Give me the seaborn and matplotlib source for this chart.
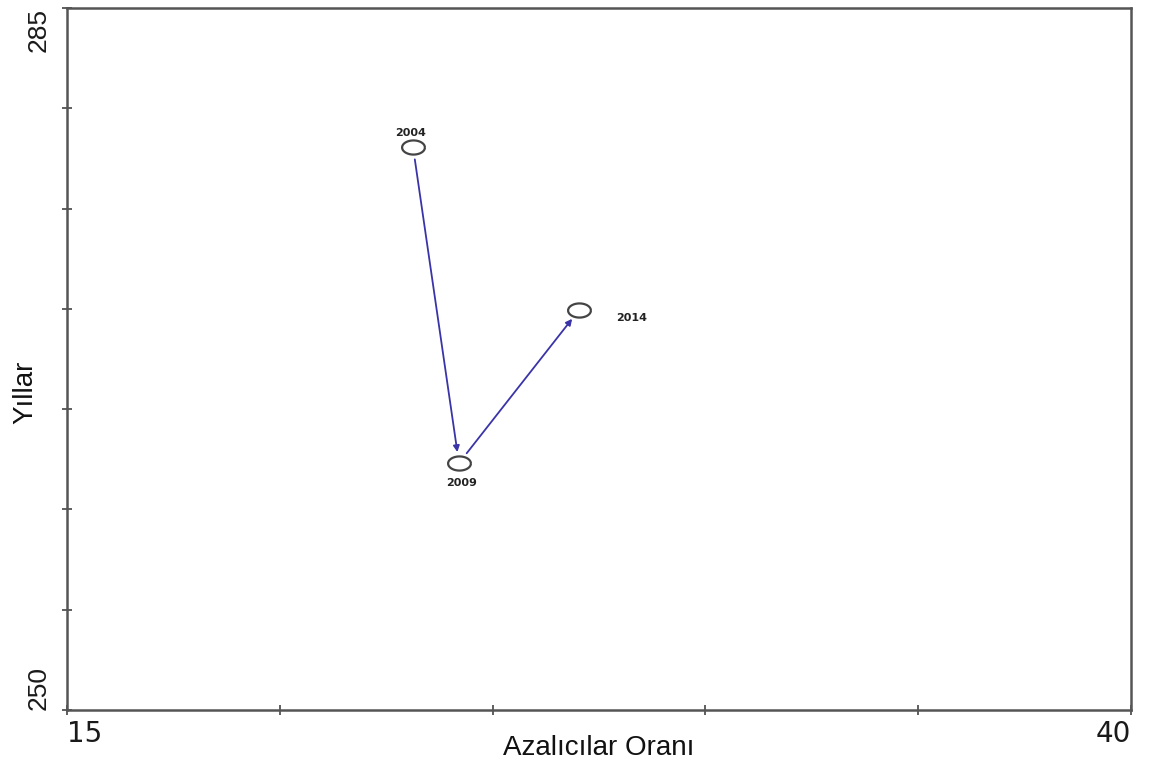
import numpy as np
import pandas as pd
import matplotlib
matplotlib.use("Agg")
import matplotlib.pyplot as plt
from matplotlib.path import Path
import seaborn as sns

# Trajectory of the reduction ratio across survey years
years = ["2004", "2009", "2014"]
ratio = [23.13, 24.21, 27.03]
score = [278.07, 262.31, 269.94]

x_ticks = [15, 20, 25, 30, 35, 40]
y_ticks = [250, 255, 260, 265, 270, 275, 280, 285]

df = pd.DataFrame({"year": years, "ratio": ratio, "score": score})

sns.set_theme(style="white")
plt.rcParams["font.family"] = ["Liberation Sans", "DejaVu Sans"]

W, H = 1149, 769
fig = plt.figure(figsize=(W / 100, H / 100), dpi=100)
ax = fig.add_axes([67 / W, 1 - 710 / H, (1131 - 67) / W, (710 - 8) / H])

# flattened open ellipse marker
t = np.linspace(0, 2 * np.pi, 40)
ellipse = Path(np.column_stack([np.cos(t), 0.62 * np.sin(t)]))

sns.scatterplot(data=df, x="ratio", y="score", marker=ellipse, s=270,
                facecolor="white", edgecolor="#444444", linewidth=1.6,
                ax=ax, zorder=3, legend=False)

# arrows linking consecutive years
for i in range(len(years) - 1):
    ax.annotate("", xy=(ratio[i + 1], score[i + 1]), xytext=(ratio[i], score[i]),
                arrowprops=dict(arrowstyle="-|>", color="#3a34a8", lw=1.3,
                                mutation_scale=9, shrinkA=9, shrinkB=8),
                zorder=2)

# year labels
offsets = {"2004": (-1.5, 10, "center", "center"),
           "2009": (2, -14, "center", "center"),
           "2014": (27, -6, "left", "center")}
for yr, xv, yv in zip(years, ratio, score):
    dx, dy, ha, va = offsets[yr]
    ax.annotate(yr, (xv, yv), xytext=(dx, dy), textcoords="offset points",
                ha=ha, va=va, fontsize=8, fontweight="bold", color="#222222",
                family="DejaVu Sans")

ax.set_xlim(15, 40)
ax.set_ylim(250, 285)
ax.set_xticks(x_ticks)
ax.set_yticks(y_ticks)
ax.set_xticklabels(["15", "", "", "", "", "40"])
ax.set_yticklabels(["250", "", "", "", "", "", "", "285"])
ax.set_xlabel("")
ax.set_ylabel("")

for lab in ax.get_xticklabels():
    lab.set_fontsize(20)
    lab.set_family("DejaVu Sans")
ax.get_xticklabels()[0].set_ha("left")
ax.get_xticklabels()[-1].set_ha("right")
for lab in ax.get_yticklabels():
    lab.set_fontsize(19)
    lab.set_rotation(90)
ax.get_yticklabels()[0].set_va("bottom")
ax.get_yticklabels()[-1].set_va("top")

ax.tick_params(axis="both", which="major", bottom=True, left=True,
               direction="inout", length=7, width=1.2,
               color="#444444", labelcolor="#1a1a1a")
ax.tick_params(axis="x", pad=4)
ax.tick_params(axis="y", pad=8)

for sp in ax.spines.values():
    sp.set_visible(True)
    sp.set_color("#555555")
    sp.set_linewidth(1.8)

# axis titles placed in figure pixels
fig.text(599 / W, 1 - 748 / H, "Azalıcılar Oranı", fontsize=20,
         color="#111111", ha="center", va="center")
fig.text(25 / W, 1 - 392 / H, "Yıllar", fontsize=20, rotation=90,
         color="#111111", ha="center", va="center")

fig.savefig("out.png", dpi=100, facecolor="white")
